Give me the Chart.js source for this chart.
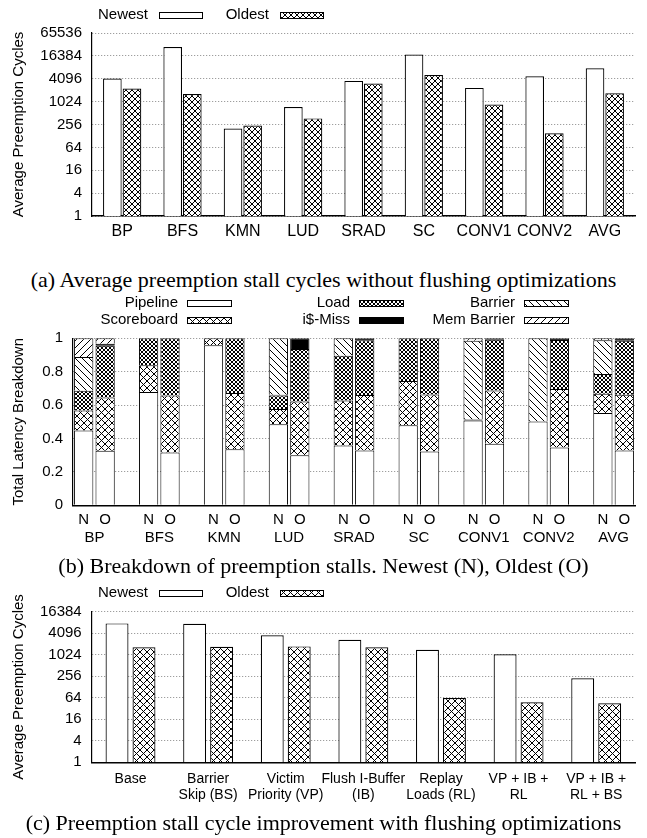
<!DOCTYPE html>
<html>
<head>
<meta charset="utf-8">
<title>Preemption stall cycles</title>
<script src="https://cdn.jsdelivr.net/npm/chart.js@4.4.1/dist/chart.umd.min.js"></script>
<style>
  body { margin: 0; background: #fff; }
  #page { position: relative; width: 647px; height: 838px; overflow: hidden; background: #fff; }
  #page canvas { position: absolute; left: 0; }
  .caption { position: absolute; left: 0; width: 647px; text-align: center; white-space: nowrap;
    font-family: "Liberation Serif", "Times New Roman", serif; font-size: 22px; line-height: 24px; color: #000; }
</style>
</head>
<body>
<div id="page">
  <canvas id="chartA" width="647" height="250" style="top:0px"></canvas>
  <div class="caption" style="top:268px">(a) Average preemption stall cycles without flushing optimizations</div>
  <canvas id="chartB" width="647" height="266" style="top:290px"></canvas>
  <div class="caption" style="top:554px">(b) Breakdown of preemption stalls. Newest (N), Oldest (O)</div>
  <canvas id="chartC" width="647" height="236" style="top:575px"></canvas>
  <div class="caption" style="top:811px">(c) Preemption stall cycle improvement with flushing optimizations</div>
</div>
<script>
/* (a) average preemption cycles per benchmark */
const benchmarks = ['BP', 'BFS', 'KMN', 'LUD', 'SRAD', 'SC', 'CONV1', 'CONV2', 'AVG'];
const newestCycles = [4150, 28000, 200, 740, 3600, 17700, 2350, 4750, 7700];
const oldestCycles = [2260, 1630, 240, 370, 3060, 5150, 860, 150, 1700];
const cycleTicks = [1, 4, 16, 64, 256, 1024, 4096, 16384, 65536];

/* (b) latency breakdown, Newest (N) and Oldest (O) */
const components = ['Pipeline', 'Scoreboard', 'Load', 'i$-Miss', 'Barrier', 'Mem Barrier'];
const pipelineN   = [0.448, 0.678, 0.958, 0.486, 0.358, 0.480, 0.508, 0.502, 0.552];
const scoreboardN = [0.120, 0.160, 0.042, 0.090, 0.270, 0.264, 0, 0, 0.116];
const loadN       = [0.118, 0.162, 0, 0.082, 0.268, 0.256, 0, 0, 0.118];
const imissN      = [0, 0, 0, 0.004, 0, 0, 0.006, 0, 0];
const barrierN    = [0.202, 0, 0, 0.338, 0.104, 0, 0.471, 0.498, 0.202];
const memBarrierN = [0.112, 0, 0, 0, 0, 0, 0.015, 0, 0.012];
const pipelineO   = [0.326, 0.316, 0.336, 0.300, 0.328, 0.322, 0.368, 0.346, 0.328];
const scoreboardO = [0.320, 0.342, 0.336, 0.322, 0.332, 0.342, 0.320, 0.350, 0.334];
const loadO       = [0.309, 0.342, 0.328, 0.314, 0.328, 0.336, 0.304, 0.294, 0.324];
const imissO      = [0.012, 0, 0, 0.064, 0.012, 0, 0.008, 0.010, 0.014];
const barrierO    = [0, 0, 0, 0, 0, 0, 0, 0, 0];
const memBarrierO = [0.033, 0, 0, 0, 0, 0, 0, 0, 0];
const fractionTicks = [0, 0.2, 0.4, 0.6, 0.8, 1];

/* (c) flushing optimizations */
const optimizations = ['Base', ['Barrier', 'Skip (BS)'], ['Victim', 'Priority (VP)'], ['Flush I-Buffer', '(IB)'],
  ['Replay', 'Loads (RL)'], ['VP + IB +', 'RL'], ['VP + IB +', 'RL + BS']];
const newestOpt = [7700, 7500, 3600, 2700, 1400, 1050, 225];
const oldestOpt = [1650, 1700, 1750, 1650, 63, 48, 45];
const optTicks = [1, 4, 16, 64, 256, 1024, 4096, 16384];

const sans = '"Liberation Sans", Arial, sans-serif';
const tickFont = { family: sans, size: 15 };

/* hatch fills */
function makePattern(ctx, size, draw) {
    const tile = document.createElement('canvas');
    tile.width = size;
    tile.height = size;
    const t = tile.getContext('2d');
    t.fillStyle = '#fff';
    t.fillRect(0, 0, size, size);
    t.strokeStyle = '#000';
    t.lineWidth = 1;
    draw(t, size);
    return ctx.createPattern(tile, 'repeat');
}
const backLines = (t, s) => { t.beginPath(); t.moveTo(-1, -1); t.lineTo(s + 1, s + 1); t.stroke(); };
const fwdLines = (t, s) => { t.beginPath(); t.moveTo(-1, s + 1); t.lineTo(s + 1, -1); t.stroke(); };
const crossLines = (t, s) => { backLines(t, s); fwdLines(t, s); };

/* legend: text followed by a small filled box, like gnuplot */
function boxLegend(items, gap, boxW, boxH) {
    return {
        id: 'boxLegend',
        afterDraw(chart) {
            const ctx = chart.ctx;
            ctx.save();
            ctx.font = '15px ' + sans;
            ctx.textAlign = 'right';
            ctx.textBaseline = 'middle';
            ctx.lineWidth = 1;
            items.forEach(it => {
                ctx.fillStyle = '#000';
                ctx.fillText(it.text, it.x, it.y);
                let bx = Math.round(it.x + gap), by = Math.round(it.y - boxH / 2);
                ctx.fillStyle = it.fill;
                ctx.fillRect(bx, by, boxW, boxH);
                ctx.strokeStyle = '#000';
                ctx.strokeRect(bx + 0.5, by + 0.5, boxW - 1, boxH - 1);
            });
            ctx.restore();
        }
    };
}

/* N / O under each bar of the breakdown chart, placed on the bars themselves */
const stackLetters = {
    id: 'stackLetters',
    afterDraw(chart) {
        const ctx = chart.ctx;
        const y = chart.chartArea.bottom + 15;
        ctx.save();
        ctx.font = '15px ' + sans;
        ctx.fillStyle = '#000';
        ctx.textAlign = 'center';
        ctx.textBaseline = 'middle';
        chart.getDatasetMeta(0).data.forEach(bar => ctx.fillText('N', bar.x, y));
        chart.getDatasetMeta(1).data.forEach(bar => ctx.fillText('O', bar.x, y));
        ctx.restore();
    }
};

function yAxisTitle(text) {
    return { display: true, text: text, color: '#000', font: { family: sans, size: 15 }, padding: { top: 10, bottom: 0 } };
}

/* (a) and (c) share the same look */
function cyclesChart(id, labels, newest, oldest, ticks, lay) {
    let ctx = document.getElementById(id).getContext('2d');
    let cross = makePattern(ctx, lay.hatch, crossLines);
    let datasets = [
        { label: 'Newest', data: newest, backgroundColor: '#fff' },
        { label: 'Oldest', data: oldest, backgroundColor: cross }
    ];
    let legendItems = datasets.map((d, i) => ({ text: d.label, fill: d.backgroundColor, x: [148, 269][i], y: lay.legendY }));
    return new Chart(ctx, {
        type: 'bar',
        data: { labels: labels, datasets: datasets },
        options: {
            responsive: false,
            animation: false,
            devicePixelRatio: 1,
            layout: { padding: { top: lay.top, right: 12, left: 0, bottom: 0 } },
            elements: { bar: { borderColor: '#000', borderWidth: 1.2 } },
            datasets: { bar: { categoryPercentage: lay.catPct, barPercentage: lay.barPct } },
            plugins: { legend: { display: false }, tooltip: { enabled: false } },
            scales: {
                x: {
                    offset: true,
                    grid: { drawOnChartArea: false, drawTicks: false },
                    border: { color: '#000', width: 1.5 },
                    ticks: { autoSkip: false, maxRotation: 0, color: '#000', padding: lay.labelPad, font: lay.labelFont },
                    afterFit: s => { s.height = lay.xHeight; }
                },
                y: {
                    type: 'logarithmic',
                    min: 1,
                    max: ticks[ticks.length - 1],
                    afterBuildTicks: s => { s.ticks = ticks.map(v => ({ value: v })); },
                    ticks: { callback: v => String(v), color: '#000', font: tickFont, padding: 10 },
                    grid: { color: '#888', lineWidth: 1, drawTicks: false },
                    border: { color: '#000', width: 1.2, dash: [1, 2] },
                    title: yAxisTitle('Average Preemption Cycles'),
                    afterFit: s => { s.width = lay.yWidth; }
                }
            }
        },
        plugins: [boxLegend(legendItems, 11, 44, 7)]
    });
}

cyclesChart('chartA', benchmarks, newestCycles, oldestCycles, cycleTicks, {
    hatch: 6, top: 33, legendY: 15, catPct: 0.65, barPct: 0.95,
    labelPad: 6, labelFont: { family: sans, size: 16 }, xHeight: 34, yWidth: 92
});

cyclesChart('chartC', optimizations, newestOpt, oldestOpt, optTicks, {
    hatch: 7, top: 36.7, legendY: 18, catPct: 0.695, barPct: 0.85,
    labelPad: 8.7, labelFont: { family: sans, size: 14, lineHeight: 16 / 14 }, xHeight: 48.7, yWidth: 91.7
});

/* (b) stacked breakdown, two stacks per benchmark */
let ctxB = document.getElementById('chartB').getContext('2d');
let fillsB = ['#fff', makePattern(ctxB, 7, crossLines), makePattern(ctxB, 4, crossLines), '#000',
    makePattern(ctxB, 7, backLines), makePattern(ctxB, 7, fwdLines)];
let newestParts = [pipelineN, scoreboardN, loadN, imissN, barrierN, memBarrierN];
let oldestParts = [pipelineO, scoreboardO, loadO, imissO, barrierO, memBarrierO];
let datasetsB = [];
components.forEach((name, k) => {
    datasetsB.push({ label: name, stack: 'N', backgroundColor: fillsB[k],
        data: newestParts[k].map((v, i) => ({ x: i, y: v })) });
    datasetsB.push({ label: name, stack: 'O', backgroundColor: fillsB[k],
        data: oldestParts[k].map((v, i) => ({ x: i, y: v })) });
});
// legend columns: Pipeline/Scoreboard, Load/i$-Miss, Barrier/Mem Barrier
let legendB = components.map((name, k) => ({
    text: name, fill: fillsB[k], x: [178, 350, 515][k >> 1], y: [13, 30][k % 2]
}));

new Chart(ctxB, {
    type: 'bar',
    data: { datasets: datasetsB },
    options: {
        responsive: false,
        animation: false,
        devicePixelRatio: 1,
        layout: { padding: { top: 48.3, right: 12, left: 0, bottom: 0 } },
        elements: { bar: { borderColor: '#000', borderWidth: 1 } },
        datasets: { bar: { categoryPercentage: 0.66, barPercentage: 0.9 } },
        plugins: { legend: { display: false }, tooltip: { enabled: false } },
        scales: {
            x: {
                type: 'linear', offset: false, min: -0.33, max: benchmarks.length - 1 + 0.33,
                afterBuildTicks: s => { s.ticks = benchmarks.map((b, i) => ({ value: i })); },
                ticks: { autoSkip: false, maxRotation: 0, color: '#000', font: tickFont, padding: 23.5,
                    callback: (v, i) => benchmarks[i] },
                grid: { offset: false, drawOnChartArea: false, drawTicks: false },
                border: { color: '#000', width: 1.5 },
                afterFit: s => { s.height = 50.7; s.paddingLeft = 0; s.paddingRight = 0; }
            },
            y: {
                stacked: true, min: 0, max: 1,
                afterBuildTicks: s => { s.ticks = fractionTicks.map(v => ({ value: v })); },
                ticks: { callback: v => String(v), color: '#000', font: tickFont, padding: 10 },
                grid: { color: '#888', lineWidth: 1, drawTicks: false },
                border: { color: '#000', width: 1.2, dash: [1, 2] },
                title: yAxisTitle('Total Latency Breakdown'),
                afterFit: s => { s.width = 73; }
            }
        }
    },
    plugins: [boxLegend(legendB, 9, 45, 7), stackLetters]
});
</script>
</body>
</html>
